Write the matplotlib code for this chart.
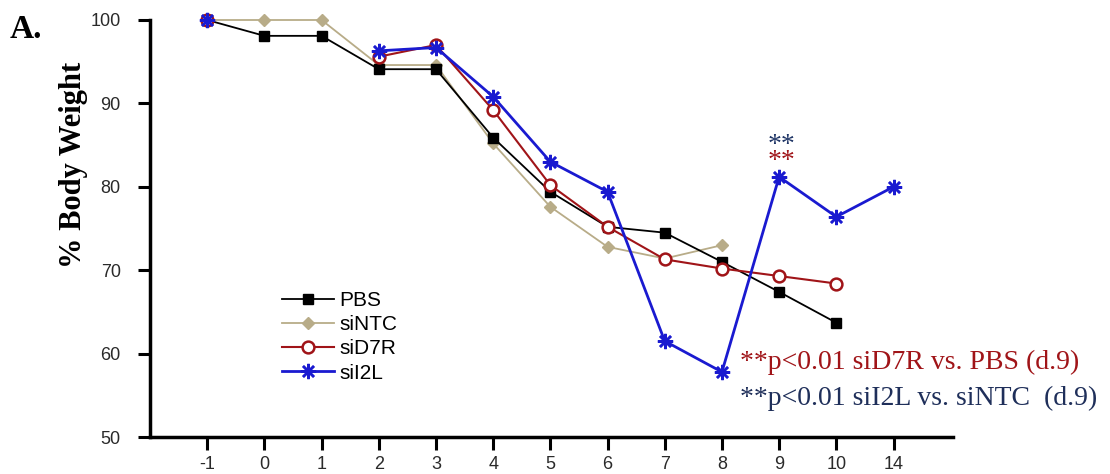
import numpy as np
import matplotlib
matplotlib.use("Agg")
import matplotlib.pyplot as plt

nan = np.nan
days = ['-1', '0', '1', '2', '3', '4', '5', '6', '7', '8', '9', '10', '14']
pbs = [100, 98.1, 98.1, 94.1, 94.1, 85.9, 79.4, 75.2, 74.5, 71.0, 67.4, 63.7, nan]
sintc = [100, 100, 100, 94.6, 94.6, 85.2, 77.6, 72.8, 71.4, 73.0, nan, nan, nan]
sid7r = [100, nan, nan, 95.6, 97.0, 89.2, 80.2, 75.2, 71.3, 70.2, 69.3, 68.4, nan]
sil2l = [100, nan, nan, 96.3, 96.7, 90.8, 83.0, 79.4, 61.5, 57.8, 81.2, 76.4, 80.0]
yticks = [50, 60, 70, 80, 90, 100]

SERIF = ['Liberation Serif', 'DejaVu Serif']
SANS = ['Liberation Sans', 'DejaVu Sans']

fig = plt.figure(figsize=(11.1, 4.74), dpi=100)
ax = fig.add_axes([150/1110, 1-437/474, (953-150)/1110, (437-20)/474])
x = np.arange(len(days))

ax.plot(x, pbs, color='black', lw=1.3, marker='s', ms=7.5, mfc='black', mec='black',
        label='PBS', clip_on=False, zorder=3)
ax.plot(x, sintc, color='#b8ac88', lw=1.3, marker='D', ms=6.5, mfc='#b8ac88', mec='#b8ac88',
        label='siNTC', clip_on=False, zorder=2)
ax.plot(x, sid7r, color='#a01418', lw=1.5, marker='o', ms=8.5, mfc='white', mec='#a01418',
        mew=1.8, label='siD7R', clip_on=False, zorder=4)
ax.plot(x, sil2l, color='#1a1ad0', lw=2.0, marker=(8, 2, 0), ms=11, mec='#1a1ad0',
        mew=1.8, label='siI2L', clip_on=False, zorder=5)

ax.set_xlim(-1.0, 13.04)
ax.set_ylim(50, 100)
ax.set_xticks(x)
ax.set_xticklabels(days, fontfamily=SANS, fontsize=13)
ax.set_yticks(yticks)
ax.set_yticklabels([str(v) for v in yticks], fontfamily=SANS, fontsize=13)
for s in ['top', 'right']:
    ax.spines[s].set_visible(False)
for s in ['left', 'bottom']:
    ax.spines[s].set_linewidth(2.5)
ax.tick_params(axis='both', direction='out', length=9, width=2.2, colors='black',
               labelcolor='#2a2a2a')
ax.tick_params(axis='y', pad=12)
ax.tick_params(axis='x', pad=5)

ax.set_ylabel('% Body Weight', fontfamily=SERIF, fontsize=22, fontweight='bold')
ax.yaxis.set_label_coords(-0.077, 0.652)
fig.text(10/1110, 1-30/474, 'A.', fontfamily=SERIF, fontsize=24, fontweight='bold',
         va='center', ha='left')

leg = ax.legend(loc='upper left', bbox_to_anchor=(282/1110, 1-291/474),
                bbox_transform=fig.transFigure, frameon=False, prop={'family': SANS, 'size': 15},
                handlelength=2.5, handletextpad=0.25, labelspacing=0.25, borderaxespad=0,
                borderpad=0)

ax.text(10.05, 83.0, '**', color='#a01418', fontfamily=SERIF, fontsize=20,
        ha='center', va='center', clip_on=False)
ax.text(10.05, 84.9, '**', color='#1f3566', fontfamily=SERIF, fontsize=20,
        ha='center', va='center', clip_on=False)
ax.text(9.32, 59.0, '**p<0.01 siD7R vs. PBS (d.9)', color='#a01418', fontfamily=SERIF,
        fontsize=20, ha='left', va='center', clip_on=False)
ax.text(9.32, 54.6, '**p<0.01 siI2L vs. siNTC  (d.9)', color='#1f2f5a', fontfamily=SERIF,
        fontsize=20, ha='left', va='center', clip_on=False)

fig.savefig('out.png', dpi=100)
